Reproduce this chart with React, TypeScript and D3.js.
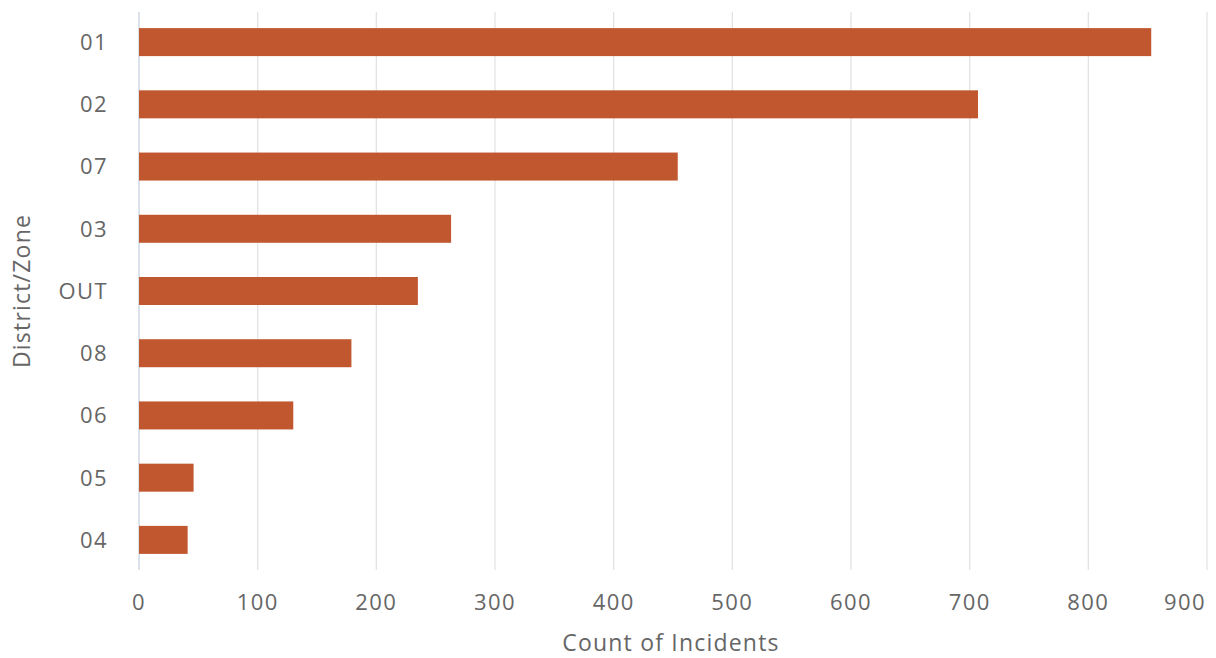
import React from "react";
import * as d3 from "d3";

const categories = ["01", "02", "07", "03", "OUT", "08", "06", "05", "04"];
const counts = [853, 707, 454, 263, 235, 179, 130, 46, 41];
const xTicks = [0, 100, 200, 300, 400, 500, 600, 700, 800, 900];

const W = 1216;
const H = 658;
const FONT = "'Open Sans', sans-serif";
const TEXT = "#666666";

export default function App() {
  const x = d3.scaleLinear().domain([0, 900]).range([139, 1207]);
  const y = d3.scaleBand<string>().domain(categories).range([11, 571]).paddingInner(0.55).paddingOuter(0.275);

  return (
    <svg width={W} height={H} style={{ position: "absolute", left: 0, top: 0, background: "#fff" }}>
      {xTicks.map((t) => (
        <line key={"g" + t} x1={x(t)} x2={x(t)} y1={12} y2={570}
          stroke={t === 0 ? "#c9d3de" : "#e3e3e3"} strokeWidth={1.3} />
      ))}
      {categories.map((c, i) => (
        <rect key={c} x={x(0)} y={y(c)} width={x(counts[i]) - x(0)} height={y.bandwidth()} fill="#c0572e" />
      ))}
      {categories.map((c) => (
        <text key={"l" + c} x={108} y={(y(c) as number) + y.bandwidth() / 2} dy="0.36em" textAnchor="end"
          fontFamily={FONT} fontSize={22} letterSpacing={1.4} fill={TEXT}>{c}</text>
      ))}
      {xTicks.map((t, i) => (
        <text key={"t" + t} x={i === xTicks.length - 1 ? 1206 : x(t)} y={602} dy="0.36em"
          textAnchor={i === xTicks.length - 1 ? "end" : "middle"}
          fontFamily={FONT} fontSize={22} letterSpacing={1.4} fill={TEXT}>{t}</text>
      ))}
      <text x={671} y={643} dy="0.36em" textAnchor="middle" fontFamily={FONT} fontSize={23}
        letterSpacing={1.2} fill={TEXT}>Count of Incidents</text>
      <text transform={`translate(22,${(11 + 571) / 2}) rotate(-90)`} dy="0.36em" textAnchor="middle"
        fontFamily={FONT} fontSize={23} letterSpacing={1.2} fill={TEXT}>District/Zone</text>
    </svg>
  );
}
